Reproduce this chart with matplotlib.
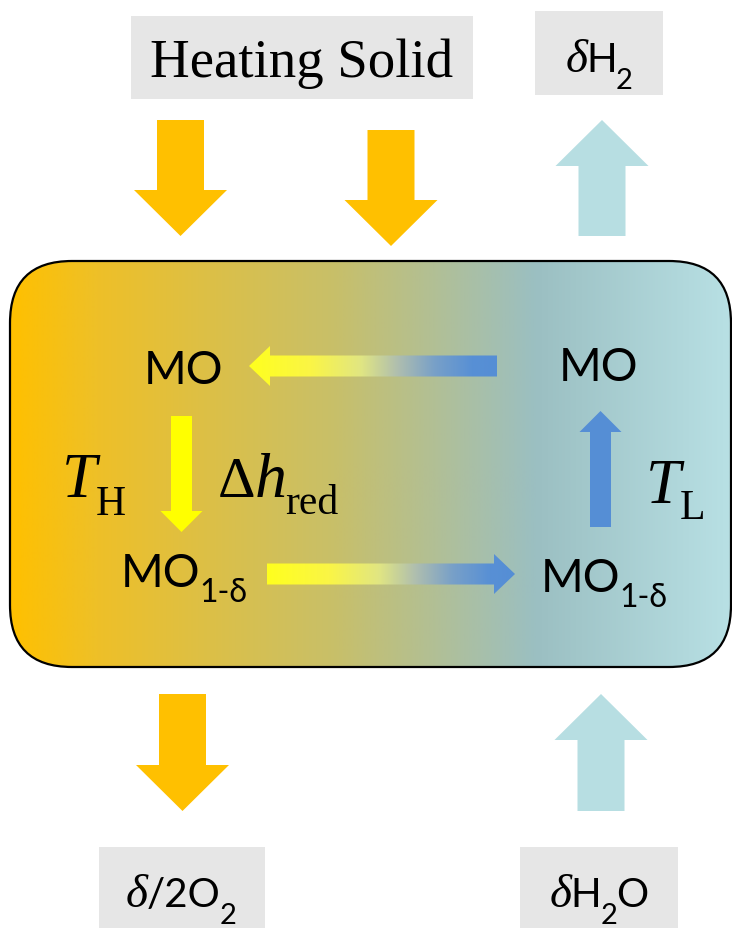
import matplotlib.pyplot as plt
import numpy as np
from matplotlib.colors import LinearSegmentedColormap
from matplotlib.patches import FancyBboxPatch, Polygon, Rectangle

W, H = 732, 929
SERIF = 'Liberation Serif'
SANS = ['Lato', 'DejaVu Sans']

# ラベル (文字片ごと: 文字列, フォント, スタイル, サイズ, 下げ量)
heating_label = 'Heating Solid'
h2_label = [('δ', SERIF, 'italic', 34, 0), ('H', SANS, 'normal', 29, 0),
            ('2', SANS, 'normal', 21, 17)]
o2_label = [('δ', SERIF, 'italic', 34, 0), ('/2O', SANS, 'normal', 29, 0),
            ('2', SANS, 'normal', 21, 17)]
h2o_label = [('δ', SERIF, 'italic', 34, 0), ('H', SANS, 'normal', 29, 0),
             ('2', SANS, 'normal', 21, 17), ('O', SANS, 'normal', 29, 0)]
oxidized_label = 'MO'
reduced_label = [('MO', SANS, 'normal', 33, 0), ('1-δ', SANS, 'normal', 23, 15)]
th_label = [('T', SERIF, 'italic', 45, 0), ('H', SERIF, 'normal', 30, 18)]
tl_label = [('T', SERIF, 'italic', 45, 0), ('L', SERIF, 'normal', 30, 16)]
dh_label = [('Δ', SERIF, 'normal', 42, 0), ('h', SERIF, 'italic', 46, 0),
            ('red', SERIF, 'normal', 30, 17)]

# 色
ORANGE = '#FFC000'
LIGHTBLUE = '#B7DEE2'
YELLOW = '#FFFF00'
BLUE = '#558ED5'
GREY = '#E6E6E6'

box_cmap = LinearSegmentedColormap.from_list('box', [
    (0.00, (255/255, 192/255, 0/255)),
    (0.12, (238/255, 192/255, 40/255)),
    (0.45, (200/255, 191/255, 105/255)),
    (0.73, (155/255, 191/255, 194/255)),
    (1.00, (184/255, 224/255, 228/255)),
])
arrow_cmap = LinearSegmentedColormap.from_list('arw', [
    (0.00, (255/255, 255/255, 30/255)),
    (0.25, (250/255, 245/255, 70/255)),
    (0.45, (225/255, 230/255, 130/255)),
    (0.60, (175/255, 190/255, 175/255)),
    (0.75, (120/255, 160/255, 200/255)),
    (0.90, (88/255, 144/255, 213/255)),
    (1.00, (85/255, 142/255, 213/255)),
])


def block_arrow(tail, tip, shaft_w, head_w, head_len):
    tail = np.asarray(tail, float)
    tip = np.asarray(tip, float)
    u = (tip - tail) / np.linalg.norm(tip - tail)
    n = np.array([-u[1], u[0]])
    base = tip - u * head_len
    return np.array([tail + n * shaft_w / 2, base + n * shaft_w / 2,
                     base + n * head_w / 2, tip, base - n * head_w / 2,
                     base - n * shaft_w / 2, tail - n * shaft_w / 2])


def draw_pieces(x, y, pieces, ha='left', gap=-1):
    # 文字片を横に並べる (1データ単位 = 1ピクセル)
    arts = []
    cx = x
    for s, fam, sty, size, dy in pieces:
        t = ax.text(cx, y + dy, s, family=fam, style=sty, fontsize=size,
                    ha='left', va='baseline', zorder=5)
        cx += t.get_window_extent(renderer).width + gap
        arts.append(t)
    if ha == 'center':
        total = cx - gap - x
        for t in arts:
            t.set_x(t.get_position()[0] - total / 2)


fig = plt.figure(figsize=(W / 100, H / 100), dpi=100)
ax = fig.add_axes([0, 0, 1, 1])
ax.set_xlim(0, W)
ax.set_ylim(H, 0)
ax.set_axis_off()
renderer = fig.canvas.get_renderer()
grad = np.linspace(0, 1, 512).reshape(1, -1)

# 反応器 (角丸・グラデーション)
box = FancyBboxPatch((10, 262), 721, 406, boxstyle='round,pad=0,rounding_size=62',
                     facecolor='none', edgecolor='black', linewidth=1.6, zorder=3)
ax.add_patch(box)
im = ax.imshow(grad, extent=(10, 731, 668, 262), cmap=box_cmap, aspect='auto',
               interpolation='bilinear', zorder=1)
im.set_clip_path(box)

# 外側の太い矢印
for tail, tip, c in [((180.5, 121), (180.5, 237), ORANGE),
                     ((391, 131), (391, 247), ORANGE),
                     ((602, 237), (602, 121), LIGHTBLUE),
                     ((182.5, 695), (182.5, 812), ORANGE),
                     ((601, 812), (601, 695), LIGHTBLUE)]:
    ax.add_patch(Polygon(block_arrow(tail, tip, 47, 93, 46), closed=True,
                         facecolor=c, edgecolor='none', zorder=2))

# 内側の矢印 (単色)
ax.add_patch(Polygon(block_arrow((181.5, 417), (181.5, 533), 21, 42, 21),
                     facecolor=YELLOW, edgecolor='none', zorder=4))
ax.add_patch(Polygon(block_arrow((600.5, 528), (600.5, 412), 21, 42, 21),
                     facecolor=BLUE, edgecolor='none', zorder=4))

# 内側の矢印 (グラデーション)
for tail, tip in [((497, 367), (249, 367)), ((267, 575), (515, 575))]:
    p = Polygon(block_arrow(tail, tip, 21, 40, 21), facecolor='none',
                edgecolor='none', zorder=4)
    ax.add_patch(p)
    x0, x1 = min(tail[0], tip[0]), max(tail[0], tip[0])
    g = ax.imshow(grad, extent=(x0, x1, tail[1] + 25, tail[1] - 25), cmap=arrow_cmap,
                  aspect='auto', interpolation='bilinear', zorder=4)
    g.set_clip_path(p)

# 灰色のラベル枠
for x, y, w, h in [(131, 17, 342, 83), (535, 12, 128, 84),
                   (99, 848, 166, 81), (520, 848, 158, 81)]:
    ax.add_patch(Rectangle((x, y), w, h, facecolor=GREY, edgecolor='none', zorder=2))

ax.text(302, 77, heating_label, family=SERIF, fontsize=39.5,
        ha='center', va='baseline', zorder=5)
draw_pieces(599, 72, h2_label, ha='center')
draw_pieces(181, 907, o2_label, ha='center')
draw_pieces(599, 907, h2o_label, ha='center')

# 化学種
ax.text(183, 384, oxidized_label, family=SANS, fontsize=33, ha='center',
        va='baseline', zorder=5)
ax.text(598.5, 381, oxidized_label, family=SANS, fontsize=33, ha='center',
        va='baseline', zorder=5)
draw_pieces(121, 587, reduced_label)
draw_pieces(541, 592, reduced_label)

# 温度とエンタルピー
draw_pieces(62, 497, th_label)
draw_pieces(646, 503, tl_label)
draw_pieces(218, 497, dh_label)

fig.savefig('out.png', dpi=100)
